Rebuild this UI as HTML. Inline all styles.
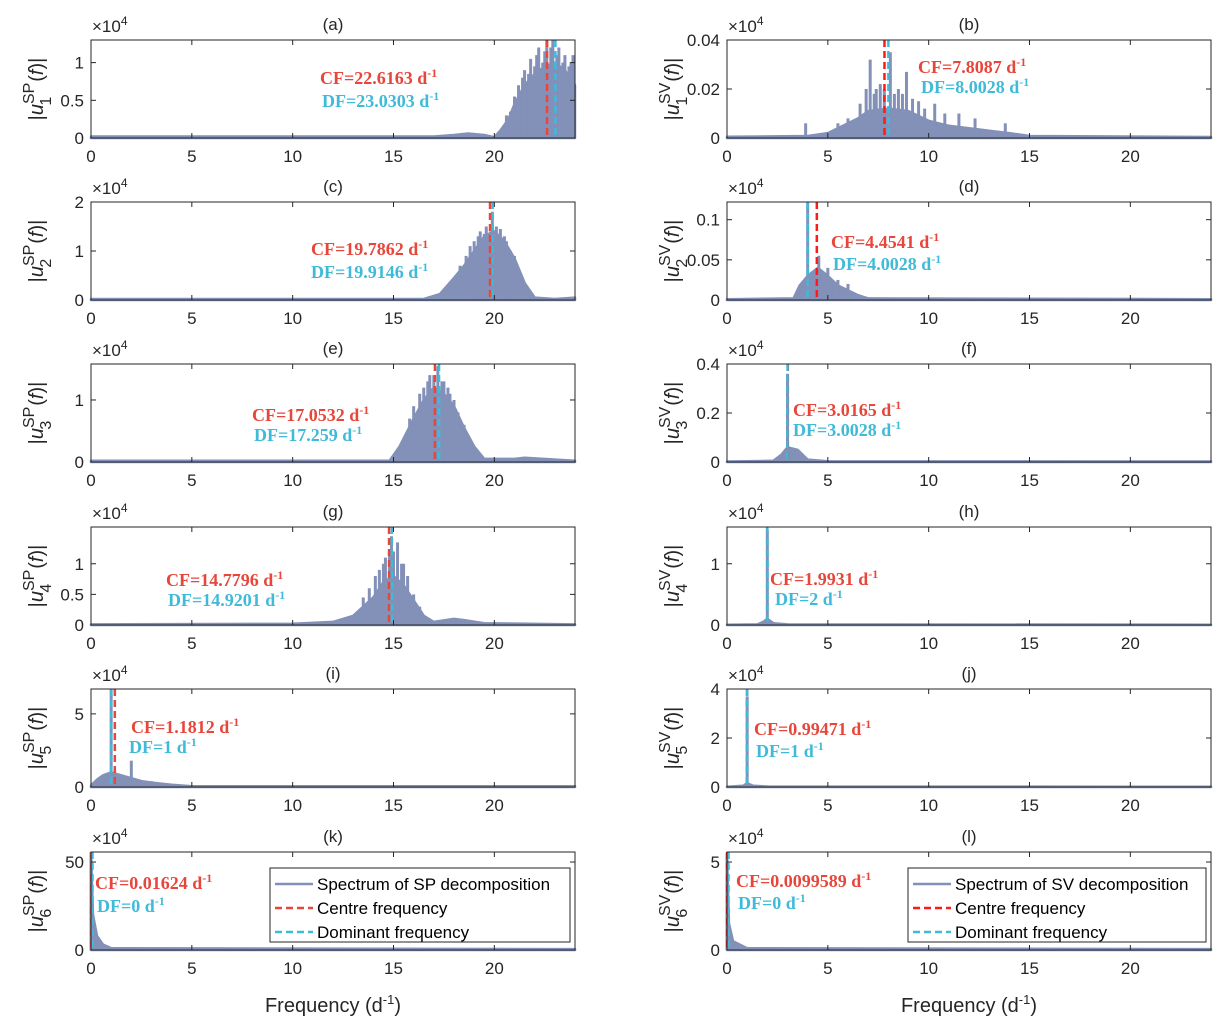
<!DOCTYPE html>
<html><head><meta charset="utf-8"><style>
html,body{margin:0;padding:0;background:#fff;}
svg{display:block;font-family:"Liberation Sans",sans-serif;}
.tick{font-size:17px;fill:#262626;}
.ann{font-family:"Liberation Serif",serif;font-weight:bold;font-size:18px;}
</style></head><body>
<svg id="fig" width="1225" height="1030" viewBox="0 0 1225 1030" xmlns="http://www.w3.org/2000/svg"></svg>
<script>
// ---- data (amplitudes in units of 1e4) ----
const panelIds = ["a","b","c","d","e","f","g","h","i","j","k","l"];
const yMaxes = [1.3,0.04,2,0.122,1.58,0.4,1.6,1.6,6.7,4,55.7,5.57];
const yTicksList = [[0,0.5,1],[0,0.02,0.04],[0,1,2],[0,0.05,0.1],[0,1],[0,0.2,0.4],[0,0.5,1],[0,1],[0,5],[0,2,4],[0,50],[0,5]];
const cfValues = [22.6163,7.8087,19.7862,4.4541,17.0532,3.0165,14.7796,1.9931,1.1812,0.99471,0.01624,0.0099589];
const dfValues = [23.0303,8.0028,19.9146,4.0028,17.259,3.0028,14.9201,2,1,1,0,0];
const cfLabels = ["22.6163","7.8087","19.7862","4.4541","17.0532","3.0165","14.7796","1.9931","1.1812","0.99471","0.01624","0.0099589"];
const dfLabels = ["23.0303","8.0028","19.9146","4.0028","17.259","3.0028","14.9201","2","1","1","0","0"];
const envFreqs = [
 [0,17,18,18.7,19.5,20,20.3,20.7,21,21.5,22,22.5,23,23.5,24],
 [0,4,5,6,6.5,7,8,9,10,11,12,13,14,15,24],
 [0,16.5,17.3,18,18.5,19,19.5,20,20.5,21,21.5,22,23,24],
 [0,3.3,3.6,4,4.5,5,5.5,6,6.5,7,24],
 [0,14.8,15.3,16,16.5,17,17.5,18,18.5,19,19.5,21,21.5,24],
 [0,2.3,2.7,3,3.5,4,5,24],
 [0,10,12,13,14,14.5,15,15.5,16,16.5,17,18,18.5,19.5,24],
 [0,1.5,1.8,2,2.3,3,24],
 [0,0.3,0.6,1,1.5,2,2.5,3,4,5,24],
 [0,0.8,1,1.3,2,24],
 [0,0.1,0.3,0.6,1,24],
 [0,0.1,0.3,1,24]];
const envAmps = [
 [0.02,0.02,0.04,0.06,0.04,0.01,0.1,0.25,0.45,0.7,0.85,0.95,1.0,0.9,0.7],
 [0.0005,0.0008,0.002,0.006,0.008,0.011,0.012,0.011,0.007,0.005,0.004,0.003,0.002,0.0008,0.0004],
 [0.02,0.02,0.12,0.45,0.7,1.0,1.3,1.4,1.2,0.85,0.35,0.05,0.02,0.05],
 [0.001,0.002,0.018,0.03,0.04,0.03,0.018,0.012,0.006,0.002,0.001],
 [0.02,0.02,0.25,0.7,1.0,1.2,1.1,0.9,0.55,0.25,0.05,0.05,0.07,0.02],
 [0.002,0.005,0.03,0.06,0.05,0.01,0.003,0.002],
 [0.01,0.02,0.05,0.15,0.45,0.7,0.8,0.65,0.4,0.15,0.05,0.1,0.08,0.03,0.01],
 [0.005,0.01,0.05,0.1,0.03,0.01,0.005],
 [0.1,0.5,0.8,1,0.8,0.6,0.4,0.3,0.15,0.05,0.05],
 [0.01,0.05,0.15,0.05,0.02,0.01],
 [55,20,8,3,1,0.5],
 [5.5,1.5,0.5,0.1,0.05]];
const spikeFreqs = [
 [20.6,20.8,21.0,21.2,21.4,21.5,21.7,21.8,22.0,22.1,22.2,22.4,22.5,22.6,22.8,22.9,23.1,23.2,23.4,23.5,23.7,23.8,23.9],
 [3.9,5.5,6.0,6.6,6.9,7.1,7.3,7.4,7.6,7.8,8.1,8.3,8.5,8.7,8.9,9.2,9.5,9.8,10.3,10.8,11.5,12.3,13.8],
 [18.3,18.6,18.8,19.0,19.2,19.3,19.5,19.6,19.8,19.9,20.1,20.3,20.5,20.6,20.8,21.0],
 [3.8,4.0,4.2,4.3,4.55,4.8,5.0,5.3,5.5,6.0],
 [15.8,16.0,16.3,16.5,16.7,16.8,17.0,17.2,17.4,17.5,17.7,17.8,18.0,18.2,18.5],
 [3.0],
 [13.5,13.8,14.1,14.3,14.5,14.6,14.8,14.9,15.0,15.2,15.4,15.5,15.7,16.0,16.3],
 [2.0],
 [1.0,2.0,3.0],
 [1.0],
 [0.0],
 [0.0]];
const spikeAmps = [
 [0.3,0.35,0.55,0.7,0.8,0.9,0.85,1.05,0.95,1.1,1.2,1.0,1.15,1.3,1.2,1.3,1.1,1.2,1.0,1.1,0.95,1.0,1.1],
 [0.006,0.006,0.008,0.014,0.02,0.032,0.018,0.02,0.022,0.02,0.035,0.018,0.02,0.018,0.027,0.016,0.015,0.012,0.014,0.01,0.01,0.008,0.006],
 [0.7,0.9,1.1,1.2,1.3,1.4,1.35,1.5,1.4,1.8,1.5,1.45,1.3,1.2,1.0,0.9],
 [0.02,0.122,0.035,0.035,0.055,0.035,0.04,0.02,0.025,0.02],
 [0.7,0.9,1.1,1.2,1.3,1.4,1.4,1.55,1.3,1.3,1.2,1.1,1.0,0.8,0.6],
 [0.36],
 [0.45,0.6,0.8,0.9,1.0,1.1,1.2,1.45,1.2,1.35,1.0,1.0,0.8,0.5,0.3],
 [1.55],
 [6.7,1.8,0.4],
 [3.7],
 [55.7],
 [5.5]];
const xTicks = [0,5,10,15,20];
const subs = ["1","1","2","2","3","3","4","4","5","5","6","6"];
const annPos = [[320,84,322,107],[918,73,921,93],[311,255,311,278],[831,248,833,270],[252,421,254,441],[793,416,793,436],[166,586,168,606],[770,585,775,605],[131,733,129,753],[754,735,756,757],[95,889,97,912],[736,887,738,909]];

const NS="http://www.w3.org/2000/svg";
const svg=document.getElementById('fig');
function mk(tag,attrs,parent){const e=document.createElementNS(NS,tag);for(const k in attrs)e.setAttribute(k,attrs[k]);(parent||svg).appendChild(e);return e;}
const colX=[91,727], W=484, H=98, rowBottoms=[138,300,462,625,787,950];
const xMax=24;

panelIds.forEach((id,i)=>{
  const col=i%2,row=Math.floor(i/2);
  const L=colX[col],B=rowBottoms[row],T=B-H,R=L+W;
  const g=mk('g',{});
  
  
  const xs=f=>L+f/xMax*W;
  const ys=v=>B-Math.min(v,yMaxes[i])/yMaxes[i]*H;
  const box=mk('rect',{x:L,y:T,width:W,height:H,fill:'#fff',stroke:'#262626','stroke-width':1},g);
  
  
  let d='M'+xs(0)+','+B;
  envFreqs[i].forEach((f,k)=>{d+=' L'+xs(f).toFixed(1)+','+ys(envAmps[i][k]).toFixed(1);});
  d+=' L'+xs(xMax)+','+B+' Z';
  const p=mk('path',{d:d,fill:'#8391b9',stroke:'#8391b9','stroke-width':2.5,'stroke-linejoin':'round'},g);
  
  
  spikeFreqs[i].forEach((f,k)=>{
    const s=mk('line',{x1:xs(f),x2:xs(f),y1:B,y2:ys(spikeAmps[i][k]),stroke:'#8391b9','stroke-width':3},g);
    
    
  });
  const cfColor = col===0?'#e8463a':'#ff1a1a';
  const cl=mk('line',{x1:xs(cfValues[i]),x2:xs(cfValues[i]),y1:T,y2:B,stroke:cfColor,'stroke-width':2.5,'stroke-dasharray':'7,4'},g);
  
  
  const off=dfValues[i]===0?1.5:0;
  const dl=mk('line',{x1:xs(dfValues[i])+off,x2:xs(dfValues[i])+off,y1:T,y2:B,stroke:'#3fbad8','stroke-width':2.5,'stroke-dasharray':'7,4'},g);
  
  
  mk('rect',{x:L,y:T,width:W,height:H,fill:'none',stroke:'#262626','stroke-width':1},g);
  xTicks.forEach(t=>{
    const x=xs(t);
    mk('line',{x1:x,x2:x,y1:B,y2:B-5,stroke:'#262626'},g);
    mk('line',{x1:x,x2:x,y1:T,y2:T+5,stroke:'#262626'},g);
    const tx=mk('text',{x:x,y:B+24,'text-anchor':'middle',class:'tick'},g);
    tx.textContent=t;
    
    
  });
  yTicksList[i].forEach(t=>{
    const y=ys(t);
    mk('line',{x1:L,x2:L+5,y1:y,y2:y,stroke:'#262626'},g);
    mk('line',{x1:R,x2:R-5,y1:y,y2:y,stroke:'#262626'},g);
    const tx=mk('text',{x:L-7,y:y+6,'text-anchor':'end',class:'tick'},g);
    tx.textContent=t;
    
    
  });
  const ex=mk('text',{x:L+1,y:T-8,class:'tick'},g);
  
  
  ex.innerHTML='×10<tspan dy="-7" font-size="12">4</tspan>';
  const tt=mk('text',{x:L+W/2,y:T-10,'text-anchor':'middle',class:'tick','font-size':'18'},g);
  tt.textContent='('+id+')';
  
  
  const yl=mk('text',{transform:'translate('+(L-48)+','+(B-H/2)+') rotate(-90)','text-anchor':'middle','font-size':'20',fill:'#262626'},g);
  
  
  yl.innerHTML='|<tspan font-style="italic">u</tspan><tspan dy="-9" font-size="16">'+(col===0?'SP':'SV')+'</tspan><tspan dx="-23" dy="17" font-size="16">'+subs[i]+'</tspan><tspan dx="15" dy="-8">(</tspan><tspan font-style="italic">f</tspan>)|';
  const a=annPos[i];
  const cf=mk('text',{x:a[0],y:a[1],class:'ann',fill:'#e8463a'},g);
  
  
  cf.innerHTML='CF='+cfLabels[i]+' d<tspan dy="-7" font-size="12">-1</tspan>';
  const df=mk('text',{x:a[2],y:a[3],class:'ann',fill:'#3fbad8'},g);
  
  
  df.innerHTML='DF='+dfLabels[i]+' d<tspan dy="-7" font-size="12">-1</tspan>';
});

[333,969].forEach(cx=>{
  const t=mk('text',{x:cx,y:1012,'text-anchor':'middle','font-size':'20',fill:'#262626'});
  
  
  t.innerHTML='Frequency (d<tspan dy="-8" font-size="13">-1</tspan><tspan dy="8">)</tspan>';
});

[[270,868,300,'SP','#e8463a'],[908,868,298,'SV','#ff1a1a']].forEach(l=>{
  const g=mk('g',{});
  
  
  mk('rect',{x:l[0],y:l[1],width:l[2],height:74,fill:'#fff',stroke:'#262626'},g);
  const items=[['Spectrum of '+l[3]+' decomposition','#8391b9',''],['Centre frequency',l[4],'7,4'],['Dominant frequency','#3fbad8','7,4']];
  items.forEach((it,k)=>{
    const y=l[1]+16+k*24;
    const ln=mk('line',{x1:l[0]+5,x2:l[0]+43,y1:y,y2:y,stroke:it[1],'stroke-width':2.5,'stroke-dasharray':it[2]||'none'},g);
    
    
    const t=mk('text',{x:l[0]+47,y:y+6,'font-size':'17',fill:'#000'},g);
    t.textContent=it[0];
    
    
  });
});
</script>
</body></html>
